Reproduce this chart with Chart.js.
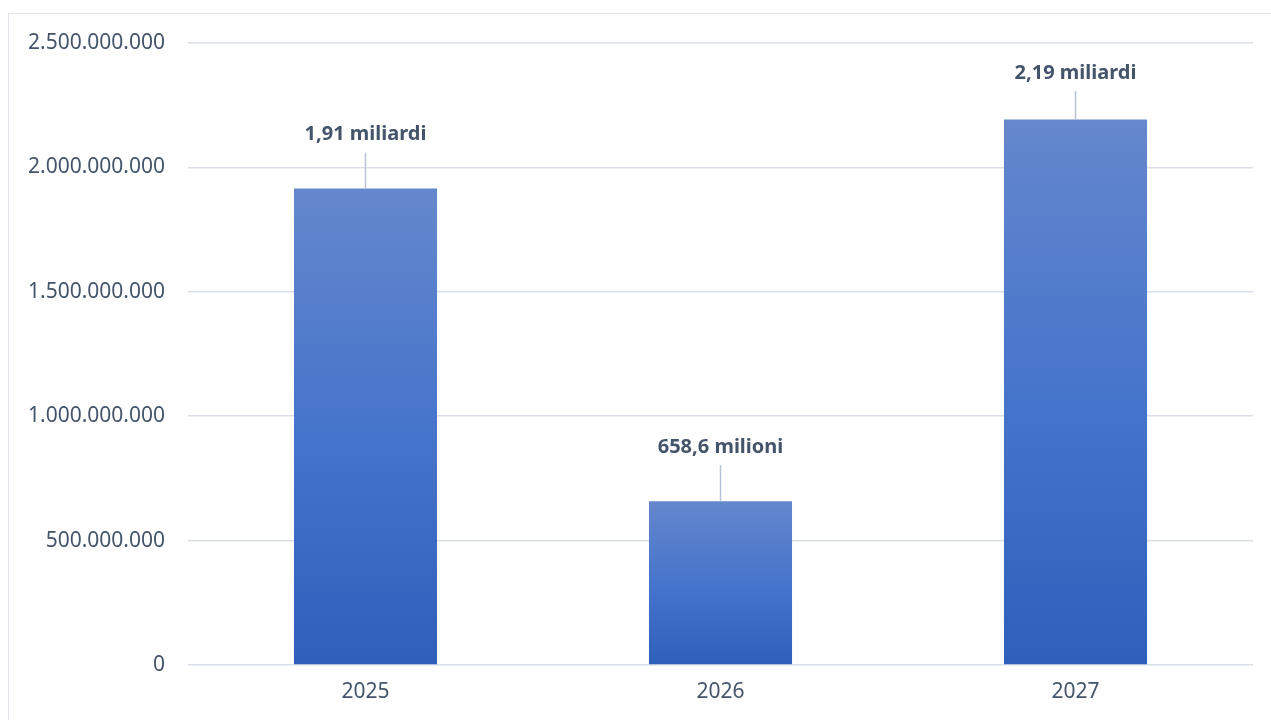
<!DOCTYPE html>
<html lang="it">
<head>
    <meta charset="UTF-8">
    <title>Importi per anno</title>
    <script src="https://cdn.jsdelivr.net/npm/chart.js"></script>
    <style>
        html, body { margin: 0; padding: 0; overflow: hidden; background: #fff; }
        #frame {
            position: absolute; left: 8px; top: 13px;
            width: 1400px; height: 900px;
            border: 1.5px solid #dfe3ea;
        }
        #wrap { position: absolute; left: 0; top: 0; width: 1271px; height: 720px; }
    </style>
</head>
<body>
    <div id="frame"></div>
    <div id="wrap"><canvas id="chart"></canvas></div>
<script>
    // dati
    const anni = ['2025', '2026', '2027'];
    const importi = [1915000000, 658600000, 2193000000];
    const etichette = ['1,91 miliardi', '658,6 milioni', '2,19 miliardi'];
    const tickMax = 2500000000;
    const tickStep = 500000000;

    const textColor = '#44546a';
    const gridColor = '#dadfe7';

    function formatIt(v) {
        return String(Math.round(v)).replace(/\B(?=(\d{3})+(?!\d))/g, '.');
    }

    // gradiente verticale per ogni barra
    function barGradient(context) {
        const chart = context.chart;
        const area = chart.chartArea;
        if (!area || context.parsed == null) return '#4472c4';
        const yScale = chart.scales.y;
        const top = yScale.getPixelForValue(context.parsed.y);
        const bottom = yScale.getPixelForValue(0);
        const g = chart.ctx.createLinearGradient(0, top, 0, bottom);
        g.addColorStop(0, '#6587cc');
        g.addColorStop(0.5, '#4675cc');
        g.addColorStop(1, '#2e5fbb');
        return g;
    }

    const leaderLabels = {
        id: 'leaderLabels',
        afterDatasetsDraw(chart) {
            const ctx = chart.ctx;
            const meta = chart.getDatasetMeta(0);
            const area = chart.chartArea;
            ctx.save();
            meta.data.forEach((bar, i) => {
                const labelY = Math.max(bar.y - 54, area.top + 30);
                ctx.strokeStyle = '#b7c2d4';
                ctx.lineWidth = 1.5;
                ctx.beginPath();
                ctx.moveTo(bar.x, labelY + 18);
                ctx.lineTo(bar.x, bar.y);
                ctx.stroke();
                ctx.fillStyle = textColor;
                ctx.font = 'bold 20px "Noto Sans"';
                ctx.textAlign = 'center';
                ctx.textBaseline = 'middle';
                ctx.fillText(etichette[i], bar.x, labelY);
            });
            ctx.restore();
        }
    };

    new Chart(document.getElementById('chart'), {
        type: 'bar',
        data: {
            labels: anni,
            datasets: [{
                data: importi,
                backgroundColor: barGradient,
                categoryPercentage: 1,
                barPercentage: 0.403
            }]
        },
        options: {
            responsive: true,
            maintainAspectRatio: false,
            animation: false,
            layout: { padding: { top: 43, right: 18, bottom: 0, left: 0 } },
            plugins: {
                legend: { display: false },
                tooltip: { enabled: false }
            },
            scales: {
                x: {
                    grid: { display: false, drawTicks: false },
                    border: { display: false },
                    ticks: {
                        color: textColor,
                        font: { family: 'Noto Sans', size: 21 },
                        padding: 14
                    },
                    afterFit(scale) { scale.height = 55; }
                },
                y: {
                    min: 0,
                    max: tickMax,
                    grid: { color: gridColor, lineWidth: 1.5, drawTicks: false },
                    border: { display: false },
                    ticks: {
                        stepSize: tickStep,
                        color: textColor,
                        font: { family: 'Noto Sans', size: 21 },
                        padding: 23,
                        callback: (v) => formatIt(v)
                    },
                    afterFit(scale) { scale.width = 188; }
                }
            }
        },
        plugins: [leaderLabels]
    });
</script>
</body>
</html>
